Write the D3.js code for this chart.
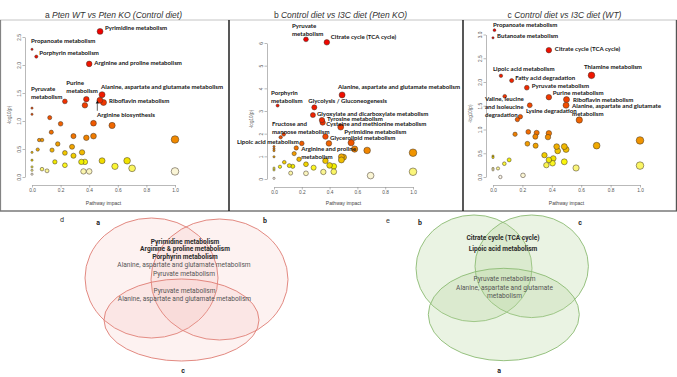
<!DOCTYPE html>
<html>
<head>
<meta charset="utf-8">
<script src="https://cdn.jsdelivr.net/npm/d3@7"></script>
<style>
  body { margin: 0; background: #fff; }
  svg { display: block; }
</style>
</head>
<body>
<div id="fig"></div>
<script>
// Datos: impacto de la ruta (x) y -log10(p) (y)

// panel a  Pten WT vs Pten KO (Control diet)
const impactA = [0.476,0.0,0.03,0.40,0.49,0.38,0.23,0.37,0.475,0.50,
                 0.0,0.0,0.124,0.43,0.20,0.56,0.135,0.29,0.38,0.43,
                 1.0,0.05,0.07,0.18,0.28,0.04,0.14,0.35,0.23,0.0,
                 0.29,0.16,0.345,0.37,0.49,0.58,0.665,0.70,0.0,0.0,
                 0.0,0.23,0.07,0.105,0.36,0.40,1.0,0.0]
const logpA   = [2.60,2.28,2.15,2.02,1.47,1.39,1.35,1.28,1.37,1.33,
                 1.23,1.12,1.06,0.96,0.95,0.92,0.80,0.73,0.70,0.73,
                 0.67,0.66,0.66,0.59,0.54,0.49,0.48,0.44,0.43,0.44,
                 0.38,0.27,0.27,0.27,0.29,0.19,0.29,0.155,0.30,0.18,
                 0.12,0.21,0.14,0.11,0.10,0.10,0.10,0.05]

// panel b  Control diet vs I3C diet (Pten KO)
const impactB = [0.23,0.38,0.49,0.026,0.29,0.28,0.345,0.35,0.48,0.07,
                 0.048,0.37,0.20,0.16,0.395,0.555,0.58,0.67,1.0,0.0,
                 0.0,0.0,0.145,0.0,0.18,0.37,0.485,0.50,0.485,0.074,
                 0.23,0.043,0.11,0.135,0.285,0.40,0.43,0.0,0.0,0.43,
                 0.12,0.23,0.355,0.695,1.0,0.0]
const logpB   = [6.16,6.03,3.71,3.24,3.16,2.82,2.60,2.49,2.29,1.97,
                 1.84,1.87,1.57,1.37,1.57,1.60,1.32,1.26,1.16,1.43,
                 1.33,1.25,1.12,0.98,0.87,0.80,0.98,0.96,0.84,0.74,
                 0.65,0.54,0.59,0.56,0.50,0.60,0.56,0.40,0.48,0.32,
                 0.26,0.25,0.31,0.15,0.32,0.03]

// panel c  Control diet vs I3C diet (WT)
const impactC = [0.01,0.0,0.38,0.67,0.054,0.127,0.23,0.38,0.50,0.08,
                 0.25,0.497,0.186,0.166,0.587,0.15,0.24,0.297,0.288,0.38,
                 0.374,1.0,0.234,0.29,0.433,0.44,0.485,0.497,0.705,0.0,
                 0.0,0.35,0.38,0.41,0.405,0.363,0.485,0.11,0.077,0.034,
                 0.0,0.0,0.565,1.0,0.204,0.05]
const logpC   = [3.09,2.93,2.67,2.14,2.13,2.03,1.88,1.68,1.63,1.70,
                 1.51,1.51,1.27,1.21,1.20,0.90,0.95,0.93,0.85,0.92,
                 0.84,0.77,0.70,0.66,0.64,0.55,0.64,0.58,0.66,0.44,
                 0.41,0.46,0.36,0.39,0.29,0.25,0.32,0.36,0.28,0.18,
                 0.18,0.15,0.19,0.24,0.035,0.0]

// etiquetas: [indice del punto, lineas de texto]
const namesA = [[0,['Pyrimidine metabolism']],[1,['Propanoate metabolism']],[2,['Porphyrin metabolism']],
                [3,['Arginine and proline metabolism']],[4,['Alanine, aspartate and glutamate metabolism']],
                [5,['Purine','metabolism']],[6,['Pyruvate','metabolism']],[8,['Arginine biosynthesis']],
                [9,['Riboflavin metabolism']]]
const namesB = [[0,['Pyruvate','metabolism']],[1,['Citrate cycle (TCA cycle)']],
                [2,['Alanine, aspartate and glutamate metabolism']],[3,['Porphyrin','metabolism']],
                [4,['Glycolysis / Gluconeogenesis']],[5,['Glyoxylate and dicarboxylate metabolism']],
                [6,['Tyrosine metabolism']],[7,['Cysteine and methionine metabolism']],
                [8,['Pyrimidine metabolism']],[9,['Fructose and','mannose metabolism']],
                [11,['Glycerolipid metabolism']],[12,['Lipoic acid metabolism']],
                [13,['Arginine and proline','metabolism']]]
const namesC = [[0,['Propanoate metabolism']],[1,['Butanoate metabolism']],[2,['Citrate cycle (TCA cycle)']],
                [3,['Thiamine metabolism']],[4,['Lipoic acid metabolism']],[5,['Fatty acid degradation']],
                [6,['Pyruvate metabolism']],[7,['Purine metabolism']],[8,['Riboflavin metabolism']],
                [9,['Valine, leucine','and isoleucine','degradation']],[10,['Lysine degradation']],
                [11,['Alanine, aspartate and glutamate','metabolism']]]

// desplazamiento (px) de cada etiqueta respecto a su punto
const offsA = [[5,-1],[-1,-6],[3,-2],[5,1],[-1,-5.5],[-20,-14],[-34,-10.4],[-3,16.7],[5.5,0.5]]
const offsB = [[-14,-11.2],[4,-3],[-4,-6],[-6.6,-11],[-6,-4.5],[4,1],[5,0.5],[3.5,3.5],[3.5,6.5],
               [-11.7,-8.8],[4.6,3],[-64.7,0.2],[5,3.5]]
const offsC = [[-1.5,-3.7],[4,0],[6,0.5],[-7.5,-6.3],[-8,-4.8],[3.5,-0.5],[5,0],[4,-2.7],[6.5,2],
               [-19.8,5.2],[-3.8,8.2],[6,3.2]]

const xTicks = [0, 0.2, 0.4, 0.6, 0.8, 1.0]
const ticksA = [0, 0.5, 1.0, 1.5, 2.0, 2.5]
const ticksB = [0, 1, 2, 3, 4, 5, 6]
const ticksC = [0, 0.5, 1.0, 1.5, 2.0, 2.5, 3.0]

// Venn d (a, b, c) y e (b, c, a)
const vennDTop    = ['Pyrimidine metabolism','Arginine & proline metabolism','Porphyrin metabolism']
const vennDShared = ['Alanine, aspartate and glutamate metabolism','Pyruvate metabolism']
const vennDAll    = ['Pyruvate metabolism','Alanine, aspartate and glutamate metabolism']
const vennETop    = ['Citrate cycle (TCA cycle)','Lipoic acid metabolism']
const vennEAll    = ['Pyruvate metabolism','Alanine, aspartate and glutamate','metabolism']

// ---------------------------------------------------------------
const W = 677, H = 377
const svg = d3.select('#fig').append('svg')
  .attr('width', W).attr('height', H)
  .style('font-family', 'Liberation Sans, Arial, sans-serif')

svg.append('rect').attr('width', W).attr('height', H).attr('fill', '#fff')

// colores tipo heat.colors de R, por rango de p
function heatColors(n) {
  const j = Math.floor(n / 4), i = n - j
  const out = []
  for (let k = 0; k < i; k++) out.push(d3.hsl(i > 1 ? 60 * k / (i - 1) : 0, 1, 0.47).formatHex())
  for (let k = 0; k < j; k++) {
    const s0 = 1 - 1 / (2 * j), s1 = 1 / (2 * j)
    const s = j > 1 ? s0 + (s1 - s0) * k / (j - 1) : s1
    out.push(d3.rgb(250, 245, Math.round(245 * (1 - s))).formatHex())
  }
  return out
}

const radio = d3.scaleSqrt().domain([0, 1]).range([1.1, 3.8])

const paneles = [
  { letra: 'a', titulo: 'Pten WT vs Pten KO (Control diet)', tx: 113.5,
    impact: impactA, logp: logpA, names: namesA, offs: offsA, yt: ticksA, fmt: d3.format('.1f'),
    xr: [32, 175], ymax: 2.5, yr: [177, 37] },
  { letra: 'b', titulo: 'Control diet vs I3C diet (Pten KO)', tx: 340.5,
    impact: impactB, logp: logpB, names: namesB, offs: offsB, yt: ticksB, fmt: d3.format('d'),
    xr: [274, 413], ymax: 6, yr: [179, 43] },
  { letra: 'c', titulo: 'Control diet vs I3C diet (WT)', tx: 564.5,
    impact: impactC, logp: logpC, names: namesC, offs: offsC, yt: ticksC, fmt: d3.format('.1f'),
    xr: [493, 640], ymax: 3, yr: [177, 34.5] }
]

// marco de los tres paneles
const marco = svg.append('g')
marco.append('line').attr('x1', 0).attr('x2', W).attr('y1', 20).attr('y2', 20)
  .attr('stroke', '#c4c4c4').attr('stroke-width', 1)
marco.append('line').attr('x1', 0).attr('x2', W).attr('y1', 211).attr('y2', 211)
  .attr('stroke', '#9a9a9a').attr('stroke-width', 1.8)
;[[0.6, '#777', 1], [229, '#111', 1.4], [463, '#111', 1.4], [676.4, '#555', 1.2]].forEach(v => {
  marco.append('line').attr('x1', v[0]).attr('x2', v[0]).attr('y1', 20).attr('y2', 211)
    .attr('stroke', v[1]).attr('stroke-width', v[2])
})

paneles.forEach(p => {
  const x = d3.scaleLinear().domain([0, 1]).range(p.xr)
  const y = d3.scaleLinear().domain([0, p.ymax]).range(p.yr)
  const g = svg.append('g')

  // titulo
  const t = g.append('text').attr('x', p.tx).attr('y', 17.5).attr('text-anchor', 'middle')
    .attr('font-size', '8.5px').attr('fill', '#333')
  t.append('tspan').text(p.letra + '  ')
  t.append('tspan').attr('font-style', 'italic').text(p.titulo)

  // ejes estilo R
  const yAxis = g.append('g')
    .attr('transform', `translate(${x(0) - 7},0)`)
    .call(d3.axisLeft(y).tickValues(p.yt).tickSize(2.5).tickSizeOuter(0).tickFormat(p.fmt))
  const xAxis = g.append('g')
    .attr('transform', `translate(0,${y(0) + 8})`)
    .call(d3.axisBottom(x).tickValues(xTicks).tickSize(2.5).tickSizeOuter(0).tickFormat(d3.format('.1f')))
  ;[yAxis, xAxis].forEach(a => {
    a.select('.domain').attr('stroke', '#8a8a8a').attr('stroke-width', 0.6)
    a.selectAll('.tick line').attr('stroke', '#8a8a8a').attr('stroke-width', 0.6)
    a.selectAll('text').attr('fill', '#555').attr('font-size', '4.8px').attr('font-family', 'Liberation Sans, Arial')
  })
  yAxis.selectAll('text').attr('transform', 'rotate(-90)').attr('x', 0).attr('y', -4.5)
    .attr('dy', 0).attr('text-anchor', 'middle')
  xAxis.selectAll('text').attr('y', 4).attr('dy', '0.71em')

  g.append('text').attr('x', x(0.5)).attr('y', 205).attr('text-anchor', 'middle')
    .attr('font-size', '5px').attr('fill', '#444').text('Pathway impact')
  g.append('text').attr('transform', `translate(${x(0) - 21},${(p.yr[0] + p.yr[1]) / 2 + 8}) rotate(-90)`)
    .attr('text-anchor', 'middle').attr('font-size', '4.6px').attr('fill', '#555').text('-log10(p)')

  // puntos: color por rango de p, tamaño por impacto
  const pts = p.impact.map((v, i) => ({ i: i, imp: v, lp: p.logp[i] }))
  const orden = pts.slice().sort((a, b) => b.lp - a.lp)
  const cols = heatColors(pts.length)
  orden.forEach((d, k) => { d.col = cols[k] })

  g.selectAll('circle.pt').data(pts.slice().sort((a, b) => b.imp - a.imp)).join('circle')
    .attr('class', 'pt')
    .attr('cx', d => x(d.imp))
    .attr('cy', d => y(d.lp))
    .attr('r', d => radio(d.imp))
    .attr('fill', d => d.col)
    .attr('stroke', '#3f3226')
    .attr('stroke-width', 0.5)

  // etiquetas de rutas
  p.names.forEach((n, k) => {
    const d = pts[n[0]]
    const off = p.offs[k]
    const lab = g.append('text')
      .attr('x', x(d.imp) + off[0]).attr('y', y(d.lp) + off[1])
      .attr('font-family', 'Lato, Liberation Sans, sans-serif').attr('font-weight', 700)
      .attr('font-size', '6.1px').attr('fill', '#151515')
    n[1].forEach((s, li) => {
      lab.append('tspan').attr('x', x(d.imp) + off[0]).attr('dy', li ? 8 : 0).text(s)
    })
  })

  // flecha para Arginine biosynthesis
  if (p.letra === 'a') {
    const d = pts[8]
    const ax = x(d.imp) - 2.6, ay = y(d.lp)
    g.append('line').attr('x1', ax).attr('x2', ax).attr('y1', ay + 10.5).attr('y2', ay + 3)
      .attr('stroke', '#222').attr('stroke-width', 0.7)
    g.append('path').attr('d', `M${ax - 1.6},${ay + 3.2}L${ax + 1.6},${ay + 3.2}L${ax},${ay + 0.2}Z`)
      .attr('fill', '#111')
  }
})

// ---------------------------------------------------------------
// diagramas de Venn
function venn(conf) {
  const g = svg.append('g')
  g.selectAll('ellipse').data(conf.elipses).join('ellipse')
    .attr('cx', d => d.cx).attr('cy', d => d.cy).attr('rx', d => d.rx).attr('ry', d => d.ry)
    .attr('fill', conf.fill).attr('fill-opacity', conf.op)
    .attr('stroke', conf.stroke).attr('stroke-width', 0.9)
  g.selectAll('text.set').data(conf.elipses).join('text')
    .attr('class', 'set')
    .attr('x', d => d.lx).attr('y', d => d.ly).attr('text-anchor', 'middle')
    .attr('font-family', 'Roboto, sans-serif').attr('font-weight', 700)
    .attr('font-size', '7px').attr('fill', '#222').text(d => d.nombre)
  g.append('text').attr('x', conf.panel[0]).attr('y', conf.panel[1]).attr('text-anchor', 'middle')
    .attr('font-family', 'Roboto, sans-serif').attr('font-size', '7.2px').attr('fill', '#333')
    .text(conf.panel[2])
  conf.bloques.forEach(b => {
    b.lineas.forEach((s, i) => {
      g.append('text').attr('x', b.x).attr('y', b.y + i * b.paso).attr('text-anchor', 'middle')
        .attr('font-family', 'Roboto, sans-serif').attr('font-size', '6.6px')
        .attr('font-weight', b.bold ? 700 : 400)
        .attr('fill', b.bold ? '#2a2a2a' : '#555')
        .text(s)
    })
  })
}

venn({
  fill: '#f1a59d', op: 0.14, stroke: '#df7d74', panel: [62, 222, 'd'],
  elipses: [
    { nombre: 'a', cx: 151.5, cy: 278, rx: 66.5, ry: 60, lx: 98, ly: 225 },
    { nombre: 'b', cx: 219.5, cy: 279.5, rx: 68.5, ry: 60.5, lx: 265, ly: 223 },
    { nombre: 'c', cx: 181.5, cy: 320, rx: 77.5, ry: 41, lx: 183, ly: 373 }
  ],
  bloques: [
    { lineas: vennDTop, x: 185, y: 243.5, paso: 7.6, bold: true },
    { lineas: vennDShared, x: 184, y: 267, paso: 9, bold: false },
    { lineas: vennDAll, x: 184.5, y: 292.5, paso: 8.5, bold: false }
  ]
})

venn({
  fill: '#b5d59c', op: 0.28, stroke: '#8cbb74', panel: [388, 223, 'e'],
  elipses: [
    { nombre: 'b', cx: 474, cy: 268.3, rx: 58, ry: 53.3, lx: 420, ly: 225 },
    { nombre: 'c', cx: 531.7, cy: 266.3, rx: 56.7, ry: 51.3, lx: 580, ly: 225 },
    { nombre: 'a', cx: 503.8, cy: 314.5, rx: 75.5, ry: 46.2, lx: 499, ly: 373 }
  ],
  bloques: [
    { lineas: vennETop, x: 503, y: 240, paso: 11, bold: true },
    { lineas: vennEAll, x: 504.5, y: 281, paso: 8.5, bold: false }
  ]
})
</script>
</body>
</html>
